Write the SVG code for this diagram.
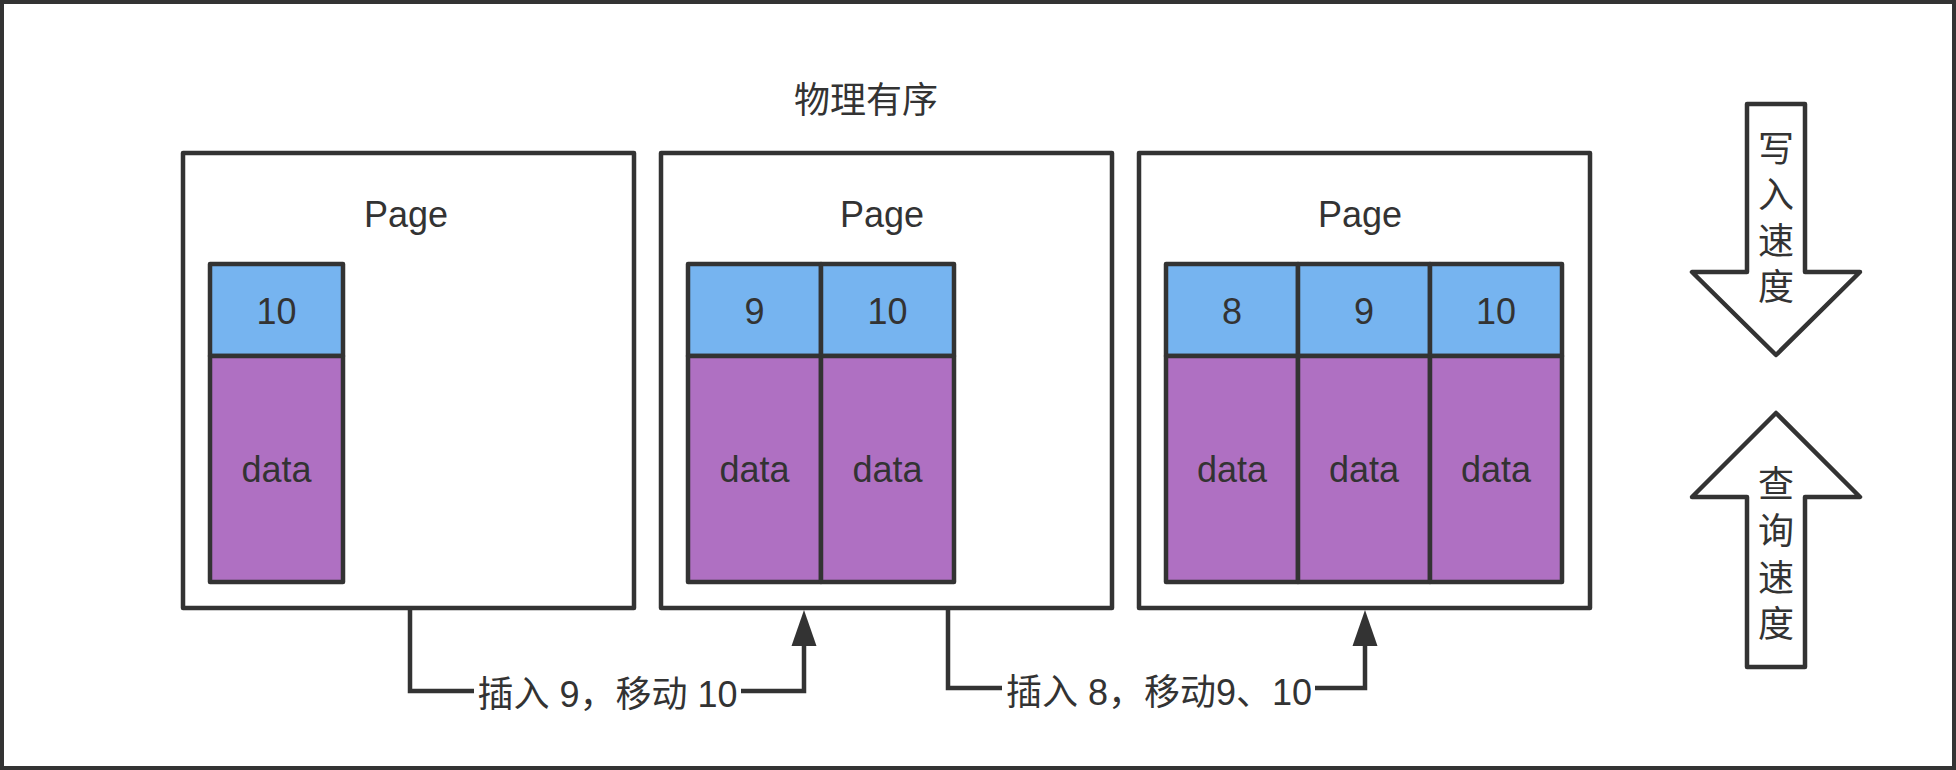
<svg xmlns="http://www.w3.org/2000/svg" width="1956" height="770" viewBox="0 0 1956 770">
<style>
.t{font-family:"Liberation Sans","Noto Sans CJK SC",sans-serif;font-size:36px;fill:#333333}
.c{text-anchor:middle}
.page{fill:#ffffff;stroke:#333333;stroke-width:4.5;stroke-linejoin:round}
.key{fill:#76b4f0;stroke:#333333;stroke-width:4.5;stroke-linejoin:round}
.data{fill:#af70c2;stroke:#333333;stroke-width:4.5;stroke-linejoin:round}
.edge{fill:none;stroke:#333333;stroke-width:4.5;stroke-linejoin:miter}
.big{fill:#ffffff;stroke:#333333;stroke-width:4.5;stroke-linejoin:round}
</style>
<defs>
<marker id="ah" markerUnits="userSpaceOnUse" markerWidth="36" markerHeight="26" viewBox="0 0 36 26" refX="16" refY="13" orient="auto">
<path d="M0,0.5 L36,13 L0,25.5 z" fill="#333333"/>
</marker>
</defs>
<rect x="2" y="2" width="1952" height="766" fill="#ffffff" stroke="#333333" stroke-width="4"/>

<g id="title"><text class="t c" x="866" y="113">物理有序</text></g>

<g id="page1">
<rect class="page" x="183" y="153" width="451" height="455"/>
<text class="t c" x="406" y="227">Page</text>
</g>
<g id="page2">
<rect class="page" x="661" y="153" width="451" height="455"/>
<text class="t c" x="882" y="227">Page</text>
</g>
<g id="page3">
<rect class="page" x="1139" y="153" width="451" height="455"/>
<text class="t c" x="1360" y="227">Page</text>
</g>

<g id="p1-rec10">
<rect class="key" x="210" y="264" width="133" height="92"/>
<text class="t c" x="276.5" y="324">10</text>
<rect class="data" x="210" y="356" width="133" height="226"/>
<text class="t c" x="276.5" y="482">data</text>
</g>

<g id="p2-rec9">
<rect class="key" x="688" y="264" width="133" height="92"/>
<text class="t c" x="754.5" y="324">9</text>
<rect class="data" x="688" y="356" width="133" height="226"/>
<text class="t c" x="754.5" y="482">data</text>
</g>
<g id="p2-rec10">
<rect class="key" x="821" y="264" width="133" height="92"/>
<text class="t c" x="887.5" y="324">10</text>
<rect class="data" x="821" y="356" width="133" height="226"/>
<text class="t c" x="887.5" y="482">data</text>
</g>

<g id="p3-rec8">
<rect class="key" x="1166" y="264" width="132" height="92"/>
<text class="t c" x="1232" y="324">8</text>
<rect class="data" x="1166" y="356" width="132" height="226"/>
<text class="t c" x="1232" y="482">data</text>
</g>
<g id="p3-rec9">
<rect class="key" x="1298" y="264" width="132" height="92"/>
<text class="t c" x="1364" y="324">9</text>
<rect class="data" x="1298" y="356" width="132" height="226"/>
<text class="t c" x="1364" y="482">data</text>
</g>
<g id="p3-rec10">
<rect class="key" x="1430" y="264" width="132" height="92"/>
<text class="t c" x="1496" y="324">10</text>
<rect class="data" x="1430" y="356" width="132" height="226"/>
<text class="t c" x="1496" y="482">data</text>
</g>

<g id="write-speed">
<polygon class="big" points="1747,104 1805,104 1805,272 1860,272 1776,355 1692,272 1747,272"/>
<text class="t c" x="1776" y="162">写</text>
<text class="t c" x="1776" y="208">入</text>
<text class="t c" x="1776" y="254">速</text>
<text class="t c" x="1776" y="300">度</text>
</g>
<g id="query-speed">
<polygon class="big" points="1776,413 1860,497 1805,497 1805,667 1747,667 1747,497 1692,497"/>
<text class="t c" x="1776" y="497">查</text>
<text class="t c" x="1776" y="544">询</text>
<text class="t c" x="1776" y="591">速</text>
<text class="t c" x="1776" y="637">度</text>
</g>

<g id="connectors">
<path class="edge" d="M410,608 L410,691 L804,691 L804,630" marker-end="url(#ah)"/>
<rect x="474" y="672" width="267" height="44" fill="#ffffff"/>
<text class="t c" x="607.5" y="707">插入 9，移动 10</text>
<path class="edge" d="M948,608 L948,688 L1365,688 L1365,630" marker-end="url(#ah)"/>
<rect x="1002" y="669" width="313" height="44" fill="#ffffff"/>
<text class="t c" x="1159" y="705">插入 8，移动9、10</text>
</g>
</svg>
